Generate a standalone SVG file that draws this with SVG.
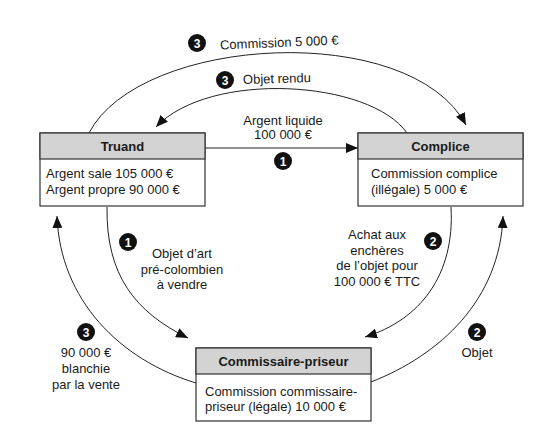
<svg xmlns="http://www.w3.org/2000/svg" width="548" height="443" viewBox="0 0 548 443">
<style>
text{font-family:"Liberation Sans",Arial,sans-serif;font-size:13px;fill:#1a1a1a}
.h{font-weight:bold;text-anchor:middle}
.c{text-anchor:middle}
.box{fill:#fff;stroke:#333;stroke-width:1.2}
.hdr{fill:#d3d3d3;stroke:#333;stroke-width:1.2}
.ln{fill:none;stroke:#222;stroke-width:1}
.bd circle{fill:#111}
.bd text{fill:#fff;font-weight:bold;font-size:12px;text-anchor:middle}
</style>
<defs>
<marker id="ah" viewBox="0 0 12 10" refX="12" refY="5" markerWidth="12" markerHeight="10" markerUnits="userSpaceOnUse" orient="auto">
<path d="M0,0 L12,5 L0,10 z" fill="#111"/>
</marker>
</defs>
<rect width="548" height="443" fill="#fff"/>
<g id="connectors">
<path class="ln" d="M89,133 C140,35 410,20 466,125" marker-end="url(#ah)"/>
<path class="ln" d="M407,133 C370,80 210,70 156,127" marker-end="url(#ah)"/>
<path class="ln" d="M205,148 L358,148" marker-end="url(#ah)"/>
<path class="ln" d="M107,207 C106,275 135,312 188,338" marker-end="url(#ah)"/>
<path class="ln" d="M451,207 C455,275 420,320 365,337" marker-end="url(#ah)"/>
<path class="ln" d="M196,383 C120,360 60,300 57,216" marker-end="url(#ah)"/>
<path class="ln" d="M371,382 C440,355 500,300 503,216" marker-end="url(#ah)"/>
</g>
<g id="labels">
<g class="bd"><circle cx="197" cy="43" r="9"/><text x="197" y="47.5">3</text></g>
<text x="220" y="47" transform="rotate(-2.5 278 43)">Commission 5 000 €</text>
<g class="bd"><circle cx="225" cy="80" r="9"/><text x="225" y="84.5">3</text></g>
<text x="243" y="83" transform="rotate(-1.5 278 79)">Objet rendu</text>
<text class="c" x="283" y="125">Argent liquide</text>
<text class="c" x="283" y="139">100 000 €</text>
<g class="bd"><circle cx="283" cy="161" r="9"/><text x="283" y="165.5">1</text></g>
<g class="bd"><circle cx="128" cy="242" r="9"/><text x="128" y="246.5">1</text></g>
<text class="c" x="182" y="258">Objet d’art</text>
<text class="c" x="182" y="274">pré-colombien</text>
<text class="c" x="182" y="289">à vendre</text>
<g class="bd"><circle cx="433" cy="241" r="9"/><text x="433" y="245.5">2</text></g>
<text class="c" x="377" y="239">Achat aux</text>
<text class="c" x="377" y="255">enchères</text>
<text class="c" x="377" y="270">de l’objet pour</text>
<text class="c" x="377" y="286">100 000 € TTC</text>
<g class="bd"><circle cx="86" cy="332" r="9"/><text x="86" y="336.5">3</text></g>
<text class="c" x="86" y="357">90 000 €</text>
<text class="c" x="86" y="373">blanchie</text>
<text class="c" x="86" y="389">par la vente</text>
<g class="bd"><circle cx="477" cy="332" r="9"/><text x="477" y="336.5">2</text></g>
<text class="c" x="477" y="357">Objet</text>
</g>
<g id="truand">
<rect class="box" x="40" y="133" width="165" height="73"/>
<rect class="hdr" x="40" y="133" width="165" height="26"/>
<text class="h" x="122.5" y="151">Truand</text>
<text x="46" y="178">Argent sale 105 000 €</text>
<text x="46" y="194">Argent propre 90 000 €</text>
</g>
<g id="complice">
<rect class="box" x="358" y="133" width="165" height="73"/>
<rect class="hdr" x="358" y="133" width="165" height="26"/>
<text class="h" x="440.5" y="151">Complice</text>
<text x="371" y="178">Commission complice</text>
<text x="371" y="194">(illégale) 5 000 €</text>
</g>
<g id="commissaire">
<rect class="box" x="196" y="348" width="175" height="73"/>
<rect class="hdr" x="196" y="348" width="175" height="26"/>
<text class="h" x="283.5" y="366">Commissaire-priseur</text>
<text x="205" y="396">Commission commissaire-</text>
<text x="205" y="411">priseur (légale) 10 000 €</text>
</g>
</svg>
